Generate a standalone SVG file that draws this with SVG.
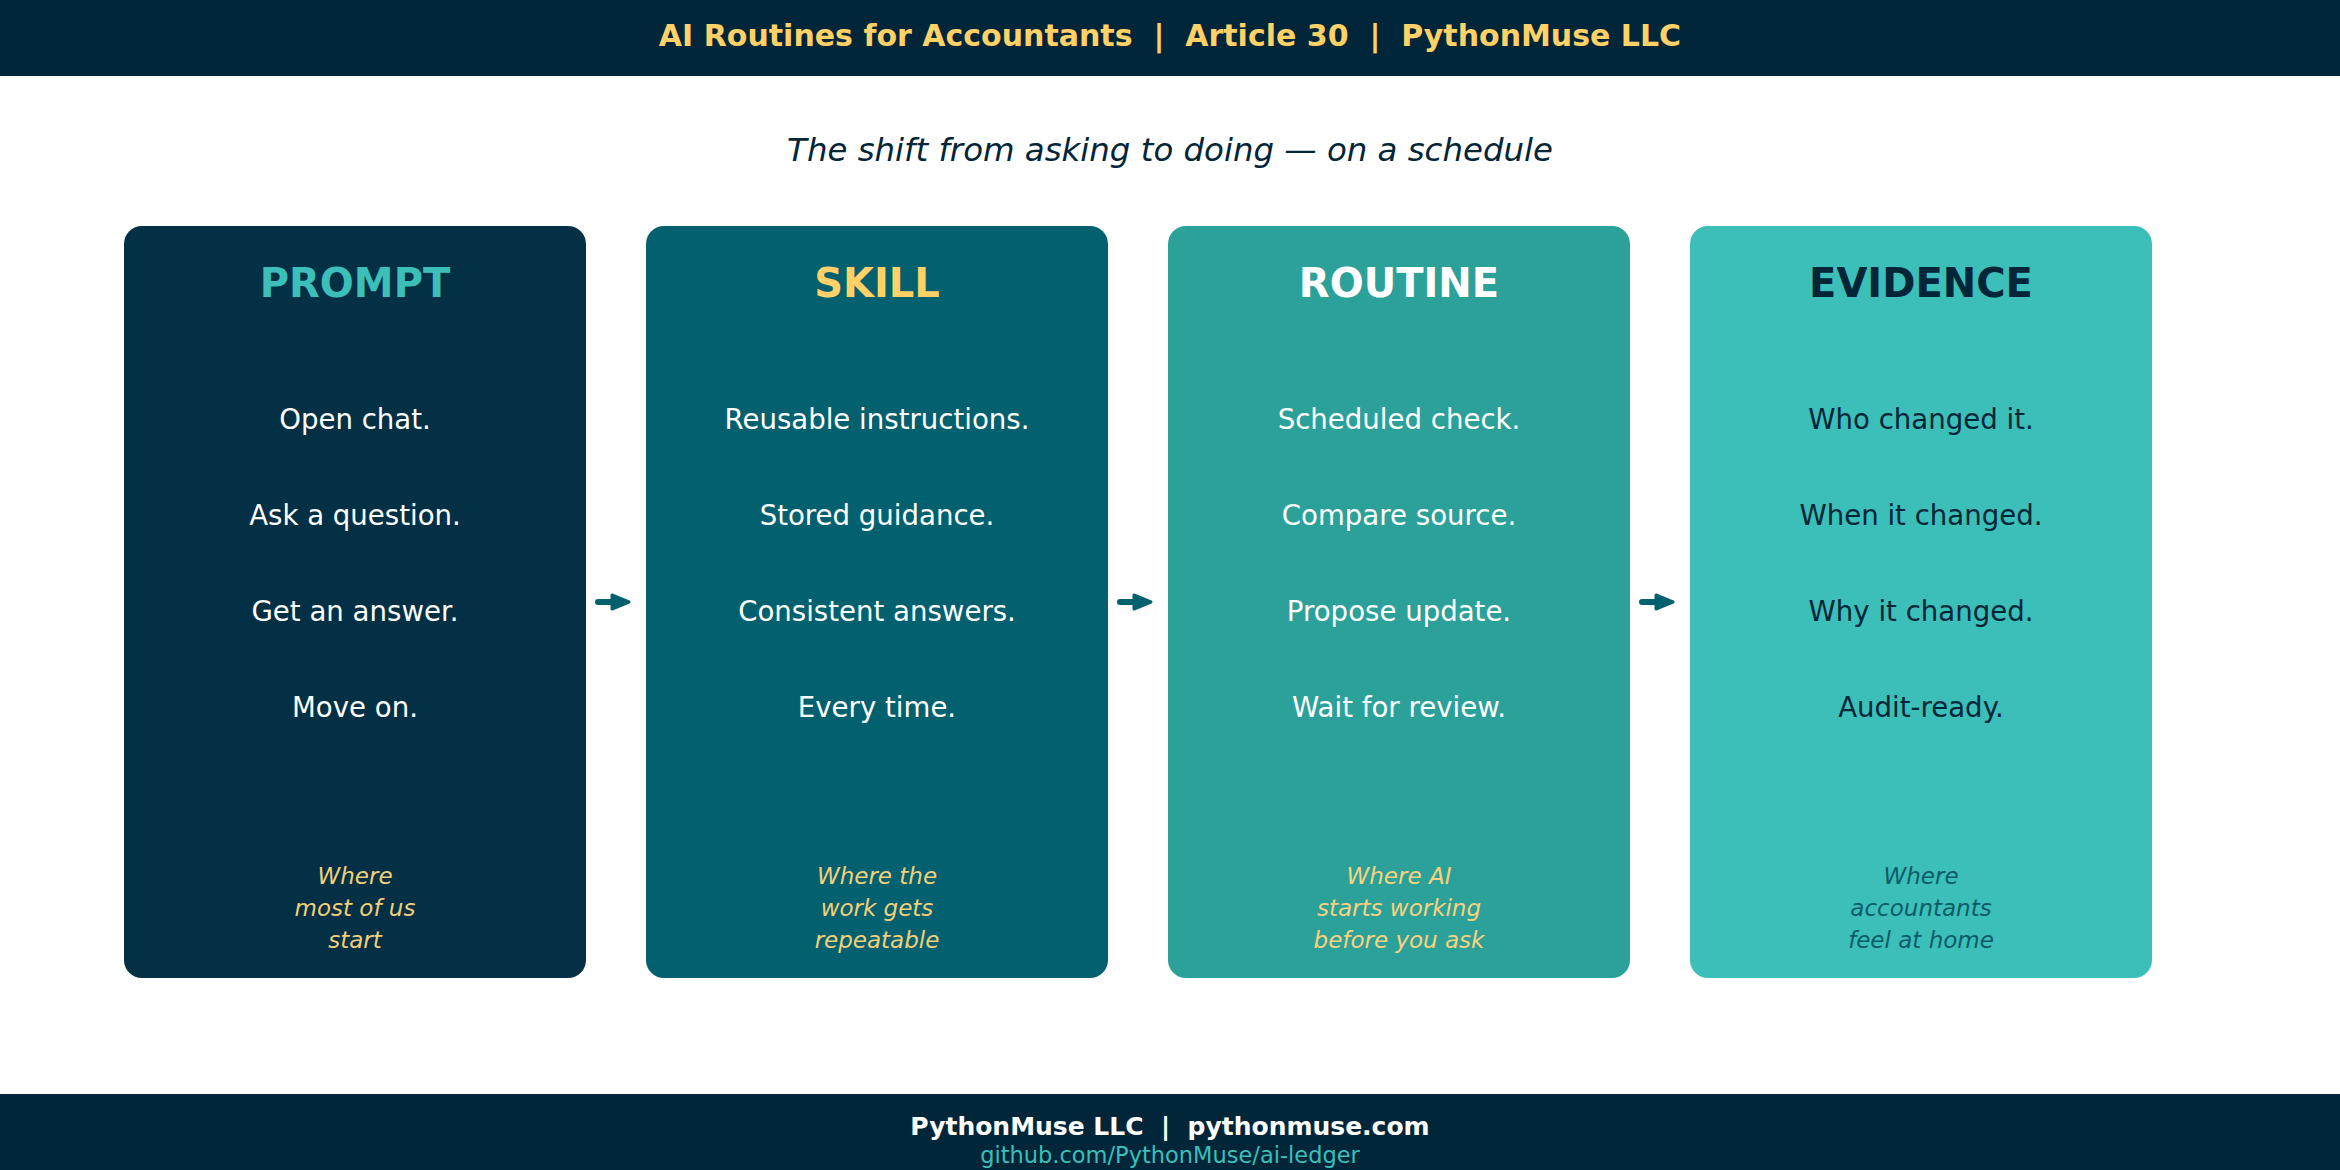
<svg xmlns="http://www.w3.org/2000/svg" width="2340" height="1170" viewBox="0 0 2340 1170">
<defs>
<style>
text{font-family:"DejaVu Sans","Liberation Sans",sans-serif;text-anchor:middle}
.hdr{font-size:30px;font-weight:bold;fill:#FFD166}
.sub{font-size:32.4px;font-style:italic;fill:#022538}
.title{font-size:40px;font-weight:bold}
.item{font-size:27.6px}
.tag{font-size:23px;font-style:italic}
.f1{font-size:25px;font-weight:bold;fill:#ffffff}
.f2{font-size:22.5px;fill:#3BBFB8}
.shaft{stroke:#03616F;stroke-width:6;stroke-linecap:round;fill:none}
.head{fill:#03616F;stroke:#03616F;stroke-width:3;stroke-linejoin:round}
</style>
</defs>
<rect x="0" y="0" width="2340" height="1170" fill="#ffffff"/>
<g id="header">
<rect x="0" y="0" width="2340" height="76" fill="#01263A"/>
<text class="hdr" x="1170" y="46" xml:space="preserve">AI Routines for Accountants  |  Article 30  |  PythonMuse LLC</text>
</g>
<text class="sub" x="1170" y="161">The shift from asking to doing — on a schedule</text>

<g id="card-prompt">
<rect x="124" y="226" width="462" height="752" rx="18" fill="#033045"/>
<text class="title" x="355" y="297" fill="#3BBFB8">PROMPT</text>
<g class="item" fill="#ffffff">
<text x="355" y="429">Open chat.</text>
<text x="355" y="525">Ask a question.</text>
<text x="355" y="621">Get an answer.</text>
<text x="355" y="717">Move on.</text>
</g>
<g class="tag" fill="#F2CF7A">
<text x="355" y="884">Where</text>
<text x="355" y="916">most of us</text>
<text x="355" y="948">start</text>
</g>
</g>

<g id="card-skill">
<rect x="646" y="226" width="462" height="752" rx="18" fill="#03616F"/>
<text class="title" x="877" y="297" fill="#FFD166">SKILL</text>
<g class="item" fill="#ffffff">
<text x="877" y="429">Reusable instructions.</text>
<text x="877" y="525">Stored guidance.</text>
<text x="877" y="621">Consistent answers.</text>
<text x="877" y="717">Every time.</text>
</g>
<g class="tag" fill="#F2CF7A">
<text x="877" y="884">Where the</text>
<text x="877" y="916">work gets</text>
<text x="877" y="948">repeatable</text>
</g>
</g>

<g id="card-routine">
<rect x="1168" y="226" width="462" height="752" rx="18" fill="#2CA19A"/>
<text class="title" x="1399" y="297" fill="#ffffff">ROUTINE</text>
<g class="item" fill="#ffffff">
<text x="1399" y="429">Scheduled check.</text>
<text x="1399" y="525">Compare source.</text>
<text x="1399" y="621">Propose update.</text>
<text x="1399" y="717">Wait for review.</text>
</g>
<g class="tag" fill="#F7D27E">
<text x="1399" y="884">Where AI</text>
<text x="1399" y="916">starts working</text>
<text x="1399" y="948">before you ask</text>
</g>
</g>

<g id="card-evidence">
<rect x="1690" y="226" width="462" height="752" rx="18" fill="#3BBFB8"/>
<text class="title" x="1921" y="297" fill="#022538">EVIDENCE</text>
<g class="item" fill="#022538">
<text x="1921" y="429">Who changed it.</text>
<text x="1921" y="525">When it changed.</text>
<text x="1921" y="621">Why it changed.</text>
<text x="1921" y="717">Audit-ready.</text>
</g>
<g class="tag" fill="#0B5C68">
<text x="1921" y="884">Where</text>
<text x="1921" y="916">accountants</text>
<text x="1921" y="948">feel at home</text>
</g>
</g>

<g id="connectors">
<line class="shaft" x1="598" y1="602" x2="616" y2="602"/>
<path class="head" d="M612,595 L629,602 L612,609 Z"/>
<line class="shaft" x1="1120" y1="602" x2="1138" y2="602"/>
<path class="head" d="M1134,595 L1151,602 L1134,609 Z"/>
<line class="shaft" x1="1642" y1="602" x2="1660" y2="602"/>
<path class="head" d="M1656,595 L1673,602 L1656,609 Z"/>
</g>

<g id="footer">
<rect x="0" y="1094" width="2340" height="76" fill="#01263A"/>
<text class="f1" x="1170" y="1135" xml:space="preserve">PythonMuse LLC  |  pythonmuse.com</text>
<text class="f2" x="1170" y="1163">github.com/PythonMuse/ai-ledger</text>
</g>
</svg>
